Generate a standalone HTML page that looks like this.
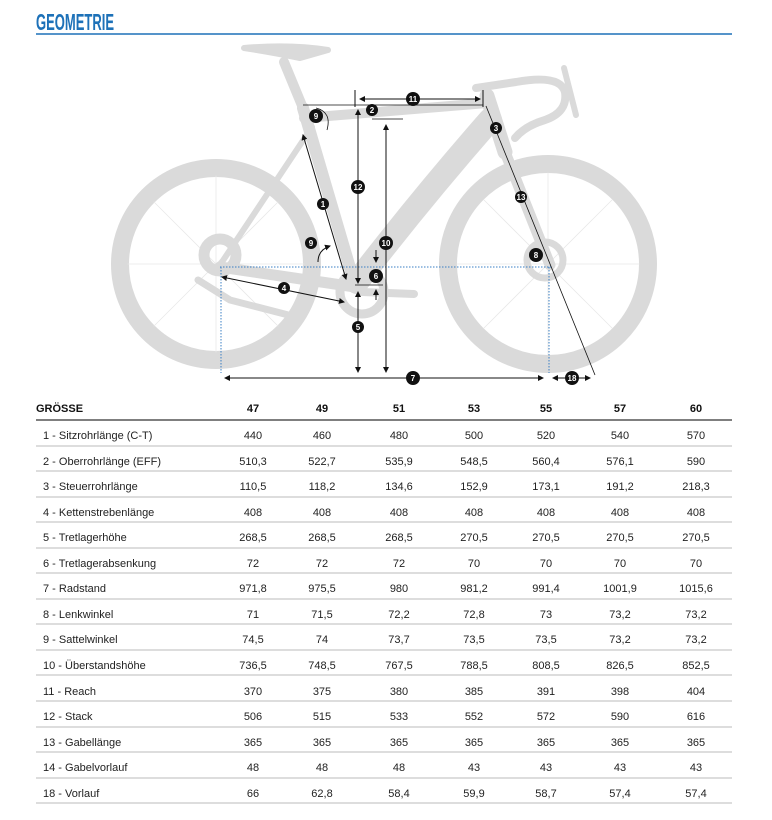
<!DOCTYPE html>
<html><head><meta charset="utf-8"><style>
html,body{margin:0;padding:0;background:#fff;}
svg{display:block;}
text{font-family:"Liberation Sans",sans-serif;}
.t{font-size:11px;fill:#222;}
.n{font-size:11px;fill:#222;text-anchor:middle;}
.lb circle{fill:#111;}
.lb text{fill:#fff;font-size:8px;font-weight:bold;text-anchor:middle;}
</style></head><body>
<svg width="772" height="820" viewBox="0 0 772 820" xmlns="http://www.w3.org/2000/svg">
<text x="36" y="30" font-family="Liberation Sans Narrow, Liberation Sans, sans-serif" font-weight="bold" font-size="23" fill="#1d71b8" textLength="78" lengthAdjust="spacingAndGlyphs">GEOMETRIE</text>
<line x1="36" y1="34" x2="732" y2="34" stroke="#1d71b8" stroke-width="1.5"/>

<g stroke="#dadada" fill="none" stroke-linecap="round" stroke-linejoin="round">
 <circle cx="216" cy="264" r="96" stroke-width="18"/>
 <circle cx="548" cy="264" r="100" stroke-width="18"/>
 <g stroke="#e8e8e8" stroke-width="0.8">
  <line x1="216" y1="176" x2="216" y2="352"/><line x1="128" y1="264" x2="304" y2="264"/>
  <line x1="154" y1="202" x2="278" y2="326"/><line x1="154" y1="326" x2="278" y2="202"/>
  <line x1="548" y1="173" x2="548" y2="355"/><line x1="457" y1="264" x2="639" y2="264"/>
  <line x1="484" y1="200" x2="612" y2="328"/><line x1="484" y1="328" x2="612" y2="200"/>
 </g>
 <path d="M284 62 L303 108" stroke-width="10"/>
 <path d="M244 48 Q290 44 328 50 L300 58 Q270 52 244 48" stroke-width="6" fill="#dadada"/>
 <path d="M303 108 L355 285" stroke-width="12"/>
 <path d="M304 118 L487 103" stroke-width="10"/>
 <path d="M490 120 Q420 200 357 282" stroke-width="24"/>
 <path d="M487 96 L505 152" stroke-width="15"/>
 <path d="M312 127 L220 265" stroke-width="6"/>
 <path d="M220 267 L355 287" stroke-width="11"/>
 <path d="M505 152 L550 265" stroke-width="11"/>
 <path d="M476 88 L516 82 Q560 74 565 92 Q568 112 545 120 Q525 126 515 138" stroke-width="8"/>
 <path d="M564 68 L576 115" stroke-width="6"/>
 <circle cx="362" cy="292" r="22" stroke-width="9"/>
 <path d="M362 292 L414 294" stroke-width="8"/>
 <circle cx="220" cy="255" r="16" stroke-width="11"/>
 <path d="M198 280 L230 300 L300 318" stroke-width="7"/>
 <circle cx="545" cy="260" r="18" stroke-width="7"/>
</g>

<g stroke="#3a7fc4" stroke-width="1" stroke-dasharray="1.5,1.5" fill="none">
 <line x1="220" y1="267" x2="551" y2="267"/>
 <line x1="221" y1="267" x2="221" y2="373"/>
 <line x1="549" y1="267" x2="549" y2="373"/>
</g>

<defs><marker id="a" markerWidth="6" markerHeight="6" refX="5" refY="3" orient="auto-start-reverse"><path d="M0 0 L6 3 L0 6z" fill="#111"/></marker></defs>
<g stroke="#111" stroke-width="1" fill="none">
 <line x1="225" y1="378" x2="543" y2="378" marker-start="url(#a)" marker-end="url(#a)"/>
 <line x1="553" y1="378" x2="590" y2="378" marker-start="url(#a)" marker-end="url(#a)"/>
 <line x1="486" y1="106" x2="595" y2="375" stroke-width="0.8"/>
 <line x1="355" y1="90" x2="355" y2="107"/>
 <line x1="483" y1="90" x2="483" y2="107"/>
 <line x1="360" y1="99" x2="480" y2="99" marker-start="url(#a)" marker-end="url(#a)"/>
 <line x1="303" y1="105" x2="483" y2="105" stroke-width="0.8"/>
 <line x1="372" y1="119" x2="403" y2="119" stroke-width="0.8"/>
 <line x1="358" y1="110" x2="358" y2="283" marker-start="url(#a)" marker-end="url(#a)"/>
 <line x1="386" y1="125" x2="386" y2="372" marker-start="url(#a)" marker-end="url(#a)"/>
 <line x1="358" y1="292" x2="358" y2="372" marker-start="url(#a)" marker-end="url(#a)"/>
 <line x1="376" y1="250" x2="376" y2="262" marker-end="url(#a)"/>
 <line x1="376" y1="300" x2="376" y2="290" marker-end="url(#a)"/>
 <line x1="355" y1="285" x2="383" y2="285" stroke-width="0.8"/>
 <line x1="303" y1="135" x2="346" y2="279" marker-start="url(#a)" marker-end="url(#a)"/>
 <line x1="222" y1="277" x2="344" y2="302" marker-start="url(#a)" marker-end="url(#a)"/>
 <path d="M316 108 Q332 112 327 130" stroke-width="0.8"/>
 <path d="M318 262 Q318 250 330 246" marker-end="url(#a)"/>
</g>
<g class="lb">
 <circle cx="413" cy="378" r="7"/><text x="413" y="381">7</text>
 <circle cx="572" cy="378" r="7"/><text x="572" y="381">18</text>
 <circle cx="413" cy="99" r="7"/><text x="413" y="102">11</text>
 <circle cx="372" cy="110" r="6"/><text x="372" y="113">2</text>
 <circle cx="496" cy="128" r="6"/><text x="496" y="131">3</text>
 <circle cx="521" cy="197" r="6"/><text x="521" y="200">13</text>
 <circle cx="358" cy="187" r="7"/><text x="358" y="190">12</text>
 <circle cx="386" cy="243" r="7"/><text x="386" y="246">10</text>
 <circle cx="358" cy="327" r="6"/><text x="358" y="330">5</text>
 <circle cx="376" cy="276" r="7"/><text x="376" y="279">6</text>
 <circle cx="323" cy="204" r="6"/><text x="323" y="207">1</text>
 <circle cx="316" cy="116" r="7"/><text x="316" y="119">9</text>
 <circle cx="311" cy="243" r="6"/><text x="311" y="246">9</text>
 <circle cx="284" cy="288" r="6"/><text x="284" y="291">4</text>
 <circle cx="536" cy="255" r="7"/><text x="536" y="258">8</text>
</g>

<text x="36" y="412" font-size="11" font-weight="bold" fill="#111">GRÖSSE</text>
<g font-size="11" font-weight="bold" fill="#111" text-anchor="middle">
 <text x="253" y="412">47</text><text x="322" y="412">49</text><text x="399" y="412">51</text><text x="474" y="412">53</text><text x="546" y="412">55</text><text x="620" y="412">57</text><text x="696" y="412">60</text>
</g>
<line x1="36" y1="420" x2="732" y2="420" stroke="#333" stroke-width="1.2"/>
<g stroke="#bbb" stroke-width="1">
 <line x1="36" y1="446" x2="732" y2="446"/><line x1="36" y1="471" x2="732" y2="471"/><line x1="36" y1="497" x2="732" y2="497"/>
 <line x1="36" y1="522" x2="732" y2="522"/><line x1="36" y1="548" x2="732" y2="548"/><line x1="36" y1="573" x2="732" y2="573"/>
 <line x1="36" y1="599" x2="732" y2="599"/><line x1="36" y1="624" x2="732" y2="624"/><line x1="36" y1="650" x2="732" y2="650"/>
 <line x1="36" y1="675" x2="732" y2="675"/><line x1="36" y1="701" x2="732" y2="701"/><line x1="36" y1="727" x2="732" y2="727"/>
 <line x1="36" y1="752" x2="732" y2="752"/><line x1="36" y1="778" x2="732" y2="778"/><line x1="36" y1="803" x2="732" y2="803"/>
</g>
<g class="t">
 <text x="43" y="439">1 - Sitzrohrlänge (C-T)</text>
 <text x="43" y="465">2 - Oberrohrlänge (EFF)</text>
 <text x="43" y="490">3 - Steuerrohrlänge</text>
 <text x="43" y="516">4 - Kettenstrebenlänge</text>
 <text x="43" y="541">5 - Tretlagerhöhe</text>
 <text x="43" y="567">6 - Tretlagerabsenkung</text>
 <text x="43" y="592">7 - Radstand</text>
 <text x="43" y="618">8 - Lenkwinkel</text>
 <text x="43" y="643">9 - Sattelwinkel</text>
 <text x="43" y="669">10 - Überstandshöhe</text>
 <text x="43" y="695">11 - Reach</text>
 <text x="43" y="720">12 - Stack</text>
 <text x="43" y="746">13 - Gabellänge</text>
 <text x="43" y="771">14 - Gabelvorlauf</text>
 <text x="43" y="797">18 - Vorlauf</text>
</g>
<g class="n">
 <text x="253" y="439">440</text><text x="322" y="439">460</text><text x="399" y="439">480</text><text x="474" y="439">500</text><text x="546" y="439">520</text><text x="620" y="439">540</text><text x="696" y="439">570</text>
 <text x="253" y="465">510,3</text><text x="322" y="465">522,7</text><text x="399" y="465">535,9</text><text x="474" y="465">548,5</text><text x="546" y="465">560,4</text><text x="620" y="465">576,1</text><text x="696" y="465">590</text>
 <text x="253" y="490">110,5</text><text x="322" y="490">118,2</text><text x="399" y="490">134,6</text><text x="474" y="490">152,9</text><text x="546" y="490">173,1</text><text x="620" y="490">191,2</text><text x="696" y="490">218,3</text>
 <text x="253" y="516">408</text><text x="322" y="516">408</text><text x="399" y="516">408</text><text x="474" y="516">408</text><text x="546" y="516">408</text><text x="620" y="516">408</text><text x="696" y="516">408</text>
 <text x="253" y="541">268,5</text><text x="322" y="541">268,5</text><text x="399" y="541">268,5</text><text x="474" y="541">270,5</text><text x="546" y="541">270,5</text><text x="620" y="541">270,5</text><text x="696" y="541">270,5</text>
 <text x="253" y="567">72</text><text x="322" y="567">72</text><text x="399" y="567">72</text><text x="474" y="567">70</text><text x="546" y="567">70</text><text x="620" y="567">70</text><text x="696" y="567">70</text>
 <text x="253" y="592">971,8</text><text x="322" y="592">975,5</text><text x="399" y="592">980</text><text x="474" y="592">981,2</text><text x="546" y="592">991,4</text><text x="620" y="592">1001,9</text><text x="696" y="592">1015,6</text>
 <text x="253" y="618">71</text><text x="322" y="618">71,5</text><text x="399" y="618">72,2</text><text x="474" y="618">72,8</text><text x="546" y="618">73</text><text x="620" y="618">73,2</text><text x="696" y="618">73,2</text>
 <text x="253" y="643">74,5</text><text x="322" y="643">74</text><text x="399" y="643">73,7</text><text x="474" y="643">73,5</text><text x="546" y="643">73,5</text><text x="620" y="643">73,2</text><text x="696" y="643">73,2</text>
 <text x="253" y="669">736,5</text><text x="322" y="669">748,5</text><text x="399" y="669">767,5</text><text x="474" y="669">788,5</text><text x="546" y="669">808,5</text><text x="620" y="669">826,5</text><text x="696" y="669">852,5</text>
 <text x="253" y="695">370</text><text x="322" y="695">375</text><text x="399" y="695">380</text><text x="474" y="695">385</text><text x="546" y="695">391</text><text x="620" y="695">398</text><text x="696" y="695">404</text>
 <text x="253" y="720">506</text><text x="322" y="720">515</text><text x="399" y="720">533</text><text x="474" y="720">552</text><text x="546" y="720">572</text><text x="620" y="720">590</text><text x="696" y="720">616</text>
 <text x="253" y="746">365</text><text x="322" y="746">365</text><text x="399" y="746">365</text><text x="474" y="746">365</text><text x="546" y="746">365</text><text x="620" y="746">365</text><text x="696" y="746">365</text>
 <text x="253" y="771">48</text><text x="322" y="771">48</text><text x="399" y="771">48</text><text x="474" y="771">43</text><text x="546" y="771">43</text><text x="620" y="771">43</text><text x="696" y="771">43</text>
 <text x="253" y="797">66</text><text x="322" y="797">62,8</text><text x="399" y="797">58,4</text><text x="474" y="797">59,9</text><text x="546" y="797">58,7</text><text x="620" y="797">57,4</text><text x="696" y="797">57,4</text>
</g>
</svg>
</body></html>
